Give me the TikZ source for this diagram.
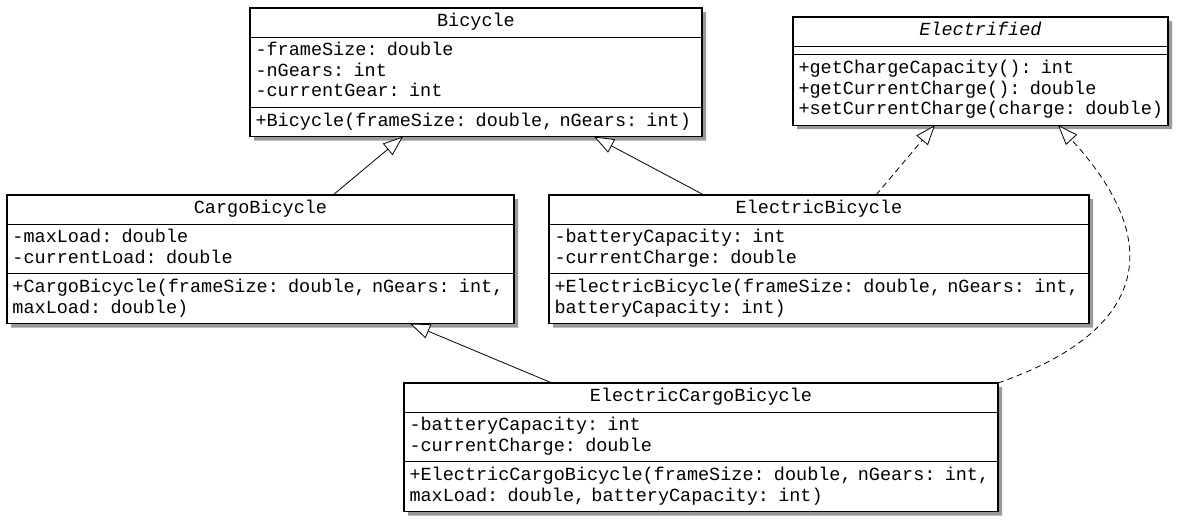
\documentclass[tikz,border=0pt]{standalone}
\usepackage{fontspec}
\usepackage{tikz}
\usetikzlibrary{shapes.multipart}
\usetikzlibrary{shadows}
\usetikzlibrary{arrows.meta}
\newfontfamily\umlfont{Liberation Mono}
\newcommand{\umlrow}[1]{\mbox{\strut#1}}
\newcommand{\umlname}[1]{\hbox to\hsize{\hss\strut#1\hss}}

\begin{document}
\begin{tikzpicture}[x=1pt, y=-1pt,
	class/.style   = {rectangle split, rectangle split parts=3, draw, line width=1.1pt, fill=white, anchor=north west, outer sep=0pt, inner xsep=5.5pt, inner ysep=3.8pt, align=left, font=\umlfont\fontsize{18.5}{20.5}\selectfont, drop shadow={shadow xshift=4pt, shadow yshift=-4pt, fill=black!40, opacity=1}},
	inherit/.style = {line width=0.8pt, -{Triangle[open, length=20pt, width=15pt, fill=white]}},
	realize/.style = {inherit, dash pattern=on 6pt off 4pt}]

		\useasboundingbox (0,0) rectangle (1186,528);
%
		\node[class, text width=441pt] (bike) at (250,8) {\umlname{Bicycle}
			\nodepart{two}\umlrow{-frameSize: double}\\\umlrow{-nGears: int}\\\umlrow{-currentGear: int}
			\nodepart{three}\umlrow{+Bicycle(frameSize: double, nGears: int)}};
		\node[class, text width=364pt] (elec) at (793,17) {\umlname{\textit{Electrified}}
			\nodepart{two}
			\nodepart{three}\umlrow{+getChargeCapacity(): int}\\\umlrow{+getCurrentCharge(): double}\\\umlrow{+setCurrentCharge(charge: double)}};
		%%%%%%%%%%%%%%%%%%% Level 2
		\node[class, text width=496pt] (cargo) at (7,195) {\umlname{CargoBicycle}
			\nodepart{two}\umlrow{-maxLoad: double}\\\umlrow{-currentLoad: double}
			\nodepart{three}\umlrow{+CargoBicycle(frameSize: double, nGears: int,}\\\umlrow{maxLoad: double)}};
		\node[class, text width=529pt] (ebike) at (549,195) {\umlname{ElectricBicycle}
			\nodepart{two}\umlrow{-batteryCapacity: int}\\\umlrow{-currentCharge: double}
			\nodepart{three}\umlrow{+ElectricBicycle(frameSize: double, nGears: int,}\\\umlrow{batteryCapacity: int)}};
		%%%%%%%%%%%%%%%%%%% Level 3
		\node[class, text width=583pt] (ecargo) at (404,383) {\umlname{ElectricCargoBicycle}
			\nodepart{two}\umlrow{-batteryCapacity: int}\\\umlrow{-currentCharge: double}
			\nodepart{three}\umlrow{+ElectricCargoBicycle(frameSize: double, nGears: int,}\\\umlrow{maxLoad: double, batteryCapacity: int)}};
%
		\draw[inherit] ([xshift=72.5pt]cargo.north) -- ([xshift=-73pt]bike.south);
		\draw[inherit] ([xshift=-115pt]ebike.north) -- ([xshift=118pt]bike.south);
		\draw[realize] ([xshift=57pt]ebike.north) -- ([xshift=-45.5pt]elec.south);
		\draw[inherit] ([xshift=-149pt]ecargo.north) -- ([xshift=149.5pt]cargo.south);
		\draw[realize] (ecargo.north east) .. controls +(152,-53) and +(107,116) .. ([xshift=77.5pt]elec.south);

\end{tikzpicture}
\end{document}
